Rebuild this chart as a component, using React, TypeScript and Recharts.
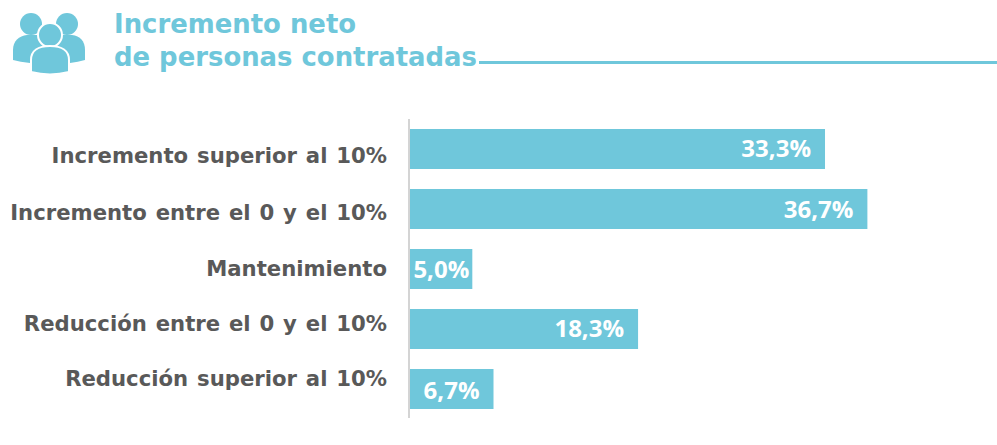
import { BarChart, Bar, XAxis, YAxis, LabelList, ReferenceLine } from "recharts";

const categories = [
  "Incremento superior al 10%",
  "Incremento entre el 0 y el 10%",
  "Mantenimiento",
  "Reducción entre el 0 y el 10%",
  "Reducción superior al 10%",
];
const values = [33.3, 36.7, 5.0, 18.3, 6.7];
const titleLines = ["Incremento neto", "de personas contratadas"];

const BLUE = "#6fc7db";
const data = categories.map((name, i) => ({ name, value: values[i] }));

// the category labels sit a bit tighter than the bars in the original
const tickShift = [7, 4, 0, -5, -10];
const labelInset = [14, 14, 3, 14, 14];
const labelShift = [-1, 0, 0, -1, 1];

function CategoryTick({ x, y, payload, index }: { x?: number; y?: number; payload?: { value: string }; index?: number }) {
  return (
    <text
      x={(x ?? 0) - 15}
      y={(y ?? 0) + tickShift[index ?? 0]}
      dy={7}
      textAnchor="end"
      fontFamily="DejaVu Sans"
      fontWeight={700}
      fontSize={21.2}
      wordSpacing={1.5}
      fill="#595959"
    >
      {payload?.value}
    </text>
  );
}

function ValueLabel(props: { x?: number; y?: number; width?: number; height?: number; value?: number; index?: number }) {
  const { x = 0, y = 0, width = 0, height = 0, value = 0, index = 0 } = props;
  return (
    <text
      x={x + width - labelInset[index]}
      y={y + height / 2 + labelShift[index]}
      dy={9}
      textAnchor="end"
      fontFamily="Open Sans"
      fontWeight={700}
      fontSize={24}
      fill="#ffffff"
    >
      {value.toFixed(1).replace(".", ",")}%
    </text>
  );
}

function BaseLine(props: { x1?: number; y1?: number; y2?: number }) {
  const { x1 = 0, y1 = 0, y2 = 0 } = props;
  return <line x1={x1 - 1} x2={x1 - 1} y1={y1 - 1} y2={y2 - 1} stroke="#d4d4d4" strokeWidth={2} />;
}

function PeopleIcon() {
  return (
    <svg width={100} height={80} style={{ position: "absolute", left: 0, top: 0 }}>
      <circle cx={31} cy={24} r={11} fill={BLUE} />
      <circle cx={67} cy={24} r={11} fill={BLUE} />
      <path d="M13 60 L13 50 C13 41 19 36 27 35 L72 35 C80 36 85 41 85 50 L85 60 Q78 62 70 63 L30 63 Q20 62 13 60 Z" fill={BLUE} />
      <circle cx={50} cy={35} r={12} fill={BLUE} stroke="#fff" strokeWidth={2} />
      <path d="M31 72 L31 60 C31 51 38 46 50 46 C62 46 69 51 69 60 L69 72 Q50 77 31 72 Z" fill={BLUE} stroke="#fff" strokeWidth={2} />
    </svg>
  );
}

export default function App() {
  return (
    <div style={{ position: "absolute", left: 0, top: 0, width: 997, height: 445, background: "#fff", overflow: "hidden" }}>
      <PeopleIcon />
      <div
        style={{
          position: "absolute",
          left: 114,
          top: 8,
          fontFamily: "DejaVu Sans",
          fontWeight: 700,
          fontSize: 25.9,
          lineHeight: "33px",
          color: BLUE,
          whiteSpace: "nowrap",
        }}
      >
        {titleLines.map((line) => (
          <div key={line}>{line}</div>
        ))}
      </div>
      <div style={{ position: "absolute", left: 479, top: 61, width: 518, height: 3, background: BLUE }} />
      <div style={{ position: "absolute", left: 0, top: 119 }}>
        <BarChart
          width={997}
          height={300}
          data={data}
          layout="vertical"
          margin={{ top: 0, right: 0, bottom: 0, left: 0 }}
          barCategoryGap={10}
        >
          <XAxis type="number" hide domain={[0, 47.1]} />
          <YAxis
            type="category"
            dataKey="name"
            width={410}
            axisLine={false}
            tickLine={false}
            interval={0}
            tick={<CategoryTick />}
          />
          <ReferenceLine x={0} shape={<BaseLine />} />
          <Bar dataKey="value" fill={BLUE} isAnimationActive={false}>
            <LabelList dataKey="value" content={<ValueLabel />} />
          </Bar>
        </BarChart>
      </div>
    </div>
  );
}
